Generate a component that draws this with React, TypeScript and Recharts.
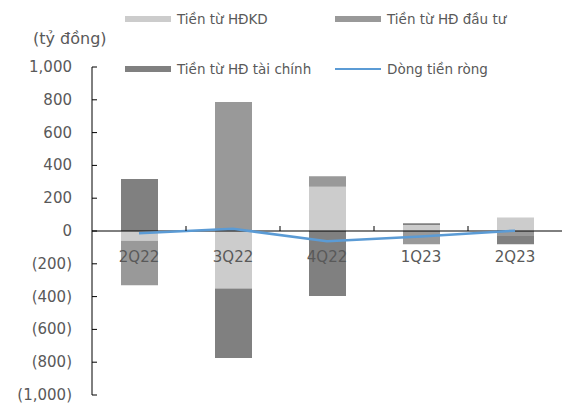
import React from "react";
import {
  ComposedChart,
  Bar,
  Line,
  XAxis,
  YAxis,
  ReferenceLine,
  ReferenceDot,
} from "recharts";

const quarters = ["2Q22", "3Q22", "4Q22", "1Q23", "2Q23"];
const operating = [-59, -350, 270, 36, 83];
const investing = [-272, 787, 64, -81, -30];
const financing = [317, -424, -396, 12, -51];
const netFlow = [-14, 13, -62, -33, 2];
const yTicks = [-1000, -800, -600, -400, -200, 0, 200, 400, 600, 800, 1000];

const seriesNames = {
  operating: "Tiền từ HĐKD",
  investing: "Tiền từ HĐ đầu tư",
  financing: "Tiền từ HĐ tài chính",
  net: "Dòng tiền ròng",
};

const palette = {
  operating: "#cccccc",
  investing: "#999999",
  financing: "#808080",
  net: "#5b9bd5",
  text: "#595959",
};

const font = "Tahoma, 'DejaVu Sans', sans-serif";

const chartData = quarters.map((q, i) => ({
  name: q,
  operating: operating[i],
  investing: investing[i],
  financing: financing[i],
  net: netFlow[i],
}));

const formatTick = (v: number) => {
  const s = Math.abs(v).toLocaleString("en-US");
  return v < 0 ? `(${s})` : s;
};

const legendItems = [
  { key: "operating", type: "bar" },
  { key: "investing", type: "bar" },
  { key: "financing", type: "bar" },
  { key: "net", type: "line" },
] as const;

// y tick: label left of the axis, short tick mark pointing inward
const YTick = (props: any) => {
  const { x, y, payload } = props;
  return (
    <g>
      <line x1={x + 20} x2={x + 25} y1={y} y2={y} stroke="#000" />
      <text
        x={x}
        y={y}
        dy={5}
        textAnchor="end"
        fill={palette.text}
        fontSize={15}
        fontFamily={font}
      >
        {formatTick(payload.value)}
      </text>
    </g>
  );
};

const CategoryMark = (props: any) => {
  const { cx, cy, label, last } = props;
  return (
    <g>
      <text
        x={cx}
        y={cy + 31}
        textAnchor="middle"
        fill={palette.text}
        fontSize={15}
        fontFamily={font}
      >
        {label}
      </text>
      {!last && <line x1={cx + 47} x2={cx + 47} y1={cy - 5} y2={cy} stroke="#000" />}
    </g>
  );
};

export default function App() {
  return (
    <div style={{ position: "absolute", left: 0, top: 0, width: 566, height: 410, background: "#fff" }}>
      <div
        style={{
          position: "absolute",
          left: 33,
          top: 29,
          fontFamily: font,
          fontSize: 16,
          color: palette.text,
        }}
      >
        (tỷ đồng)
      </div>
      <div
        style={{
          position: "absolute",
          left: 125,
          top: 8,
          display: "grid",
          gridTemplateColumns: "210px 220px",
          rowGap: 28,
          fontFamily: font,
          fontSize: 13.5,
          color: palette.text,
          zIndex: 2,
        }}
      >
        {legendItems.map((it) => (
          <div key={it.key} style={{ display: "flex", alignItems: "center", height: 22 }}>
            <span
              style={{
                display: "inline-block",
                width: 46,
                height: it.type === "bar" ? 6 : 2,
                background: palette[it.key],
                marginRight: 6,
              }}
            />
            {seriesNames[it.key]}
          </div>
        ))}
      </div>
      <ComposedChart
        width={566}
        height={410}
        data={chartData}
        stackOffset="sign"
        margin={{ top: 67, right: 4, left: 0, bottom: 15 }}
        barSize={37}
      >
        <XAxis dataKey="name" hide />
        <YAxis
          width={92}
          domain={[-1000, 1000]}
          ticks={yTicks}
          interval={0}
          axisLine={{ stroke: "#000" }}
          tickLine={false}
          tickSize={0}
          tickMargin={20}
          tick={<YTick />}
        />
        <Bar dataKey="operating" name={seriesNames.operating} stackId="cf" fill={palette.operating} isAnimationActive={false} />
        <Bar dataKey="investing" name={seriesNames.investing} stackId="cf" fill={palette.investing} isAnimationActive={false} />
        <Bar dataKey="financing" name={seriesNames.financing} stackId="cf" fill={palette.financing} isAnimationActive={false} />
        <ReferenceLine y={0} stroke="#000" />
        <Line
          dataKey="net"
          name={seriesNames.net}
          type="linear"
          stroke={palette.net}
          strokeWidth={2.5}
          dot={false}
          isAnimationActive={false}
        />
        {quarters.map((q, i) => (
          <ReferenceDot
            key={q}
            x={q}
            y={0}
            r={0}
            shape={(p: any) => <CategoryMark {...p} label={q} last={i === quarters.length - 1} />}
          />
        ))}
      </ComposedChart>
    </div>
  );
}
